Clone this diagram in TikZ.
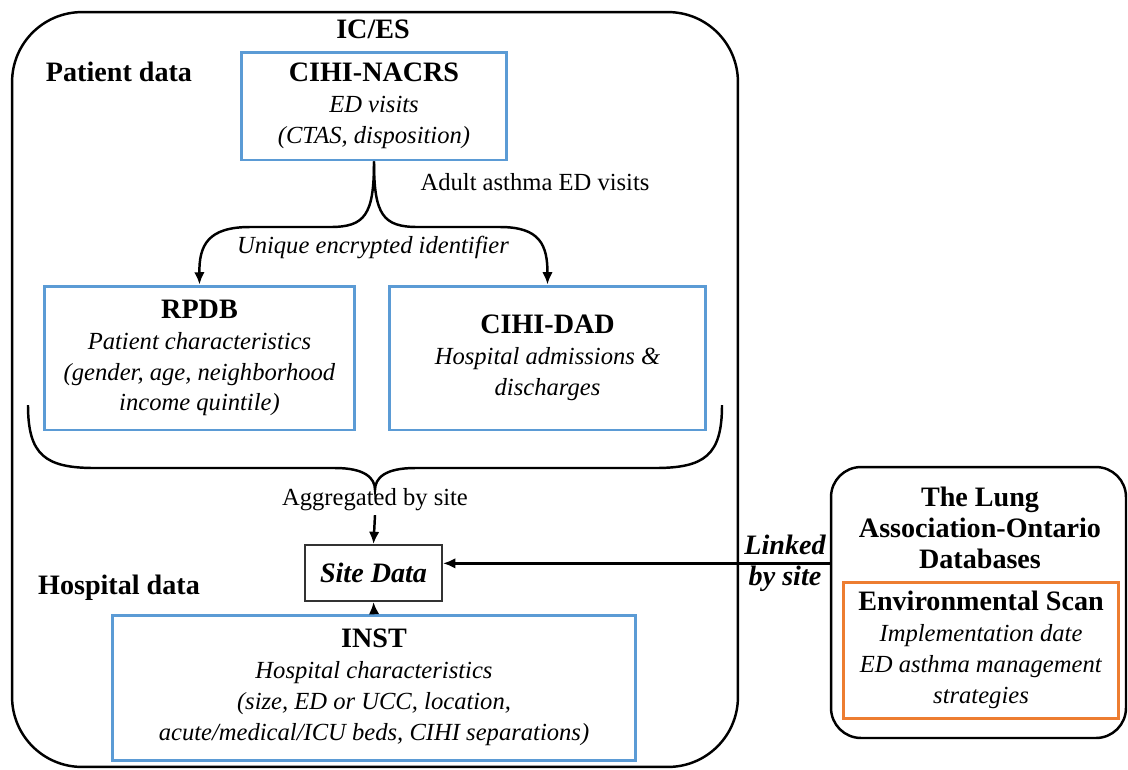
\documentclass[tikz,border=0pt]{standalone}
\usepackage{fontspec}
\setmainfont{Liberation Serif}
\usetikzlibrary{arrows.meta}
\definecolor{dbblue}{HTML}{5B9BD5}
\definecolor{scanorange}{HTML}{ED7D31}
\newcommand{\hdtext}[1]{{\fontsize{16}{17.6}\selectfont\bfseries #1}}
\tikzset{
  dbbox/.style={draw=dbblue, line width=1.7pt, align=center, inner sep=0pt},
  groupbox/.style={draw, line width=1.4pt, inner sep=0pt},
  arr/.style={line width=1.4pt, -{Latex[length=7pt,width=6pt]}},
}
\begin{document}
\begin{tikzpicture}[x=0.02cm, y=-0.02cm, font=\fontsize{14}{17.6}\selectfont]
    \useasboundingbox (0,0) rectangle (1128,769);
    %% groups
    \node [groupbox, rounded corners=1.4cm, minimum width=14.52cm, minimum height=15.1cm] (ices) at (375,389.5) {};
    \node [groupbox, rounded corners=0.6cm, minimum width=5.9cm, minimum height=5.42cm] (lung) at (978.5,602.5) {};
    %% headings
    \node (icestitle) at (373,29) {\hdtext{IC/ES}};
    \node (patientlbl) at (119,72) {\hdtext{Patient data}};
    \node (hosplbl) at (119,588) {\hdtext{Hospital data}};
    \node [align=center] (lungtitle) at (980,528) {\hdtext{The Lung}\\\hdtext{Association-Ontario}\\\hdtext{Databases}};

    %% databases
    \node [dbbox, minimum width=5.32cm, minimum height=2.16cm] (nacrs) at (374,106)
        {\hdtext{CIHI-NACRS}\\\textit{ED visits}\\\textit{(CTAS, disposition)}};
    \node [dbbox, minimum width=6.22cm, minimum height=2.88cm] (rpdb) at (199.5,358)
        {\hdtext{RPDB}\\\textit{Patient characteristics}\\\textit{(gender, age, neighborhood}\\\textit{income quintile)}};
    \node [dbbox, minimum width=6.34cm, minimum height=2.88cm] (dad) at (547.5,358)
        {\hdtext{CIHI-DAD}\\\textit{Hospital admissions \&}\\\textit{discharges}};
    \node [dbbox, minimum width=10.48cm, minimum height=2.9cm] (inst) at (374,687.5)
        {\hdtext{INST}\\\textit{Hospital characteristics}\\\textit{(size, ED or UCC, location,}\\\textit{acute/medical/ICU beds, CIHI separations)}};
    \node [dbbox, draw=scanorange, minimum width=5.52cm, minimum height=2.72cm] (scan) at (981,650)
        {\hdtext{Environmental Scan}\\\textit{Implementation date}\\\textit{ED asthma management}\\\textit{strategies}};
    \node [draw=black!80, line width=1.1pt, minimum width=2.74cm, minimum height=1.12cm] (site) at (373.5,573)
        {\hdtext{\itshape Site Data}};

    %% labels
    \node (adultlbl) at (535,182) {Adult asthma ED visits};
    \node (uniquelbl) at (373,247) {\textit{Unique encrypted identifier}};
    \node [inner sep=2pt] (agglbl) at (375,500) {Aggregated by site};
    \node (linkedlbl) at (785,545) {\hdtext{\itshape Linked}};
    \node (bysitelbl) at (785,579) {\hdtext{\itshape by site}};
    \coordinate (linkin) at ([yshift=5.5pt]site.east);

    %% edges
    \draw [arr] (nacrs.south) .. controls (374,215) and (365,227) .. (330,227) -- (250,227)
        .. controls (208,227) and (199,245) .. (rpdb.north);
    \draw [arr] (nacrs.south) .. controls (374,215) and (383,227) .. (418,227) -- (500,227)
        .. controls (540,227) and (547.5,245) .. (dad.north);
    \draw [line width=1.4pt] (28,405) .. controls (28,455) and (45,468) .. (95,468) -- (335,468)
        .. controls (365,468) and (375,478) .. (375,490)
        .. controls (375,478) and (385,468) .. (415,468) -- (655,468)
        .. controls (705,468) and (722,455) .. (722,405);
    \draw [arr] (agglbl.south) -- (site.north);
    \draw [arr] (inst.north) -- (site.south);
    \draw [arr] (lung.west |- linkin) -- (linkin);
\end{tikzpicture}
\end{document}
